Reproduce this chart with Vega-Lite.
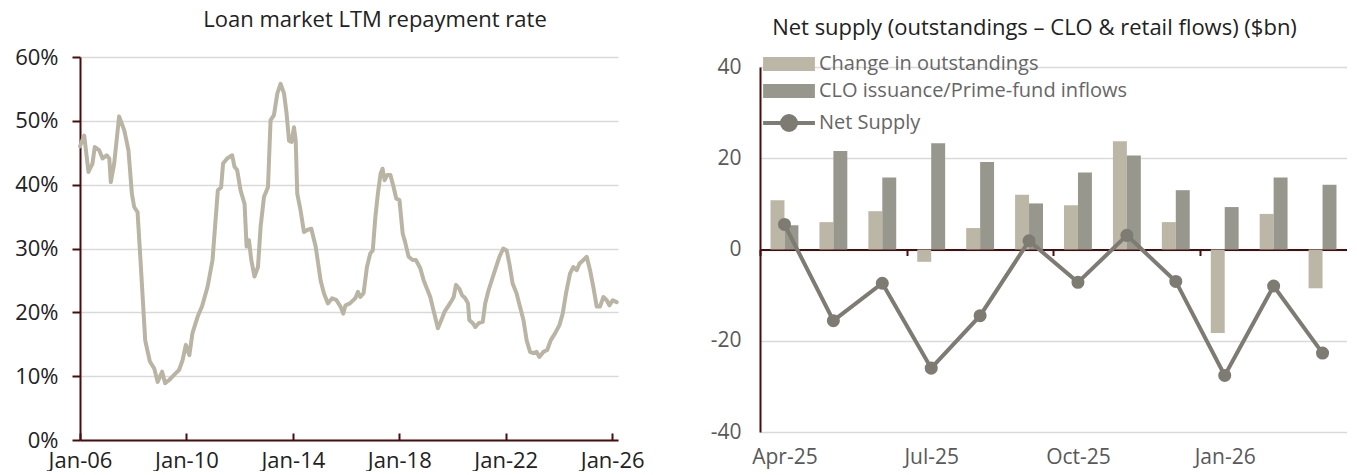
{
  "$schema": "https://vega.github.io/schema/vega-lite/v6.json",
  "background": "white",
  "padding": {"left": 0, "top": 9, "right": 0, "bottom": 0},
  "bounds": "full",
  "spacing": 55,
  "resolve": {"legend": {"color": "independent"}, "scale": {"color": "independent"}},
  "config": {"font": "Open Sans", "view": {"stroke": null}},
  "datasets": {
    "rate": [
      {"date": "2006-01-01", "rate": 46.0},
      {"date": "2006-02-28", "rate": 47.7},
      {"date": "2006-04-27", "rate": 42.0},
      {"date": "2006-06-21", "rate": 43.3},
      {"date": "2006-07-23", "rate": 45.9},
      {"date": "2006-09-21", "rate": 45.4},
      {"date": "2006-11-07", "rate": 44.1},
      {"date": "2007-01-02", "rate": 44.6},
      {"date": "2007-02-07", "rate": 44.1},
      {"date": "2007-02-28", "rate": 40.4},
      {"date": "2007-04-15", "rate": 43.3},
      {"date": "2007-06-22", "rate": 50.7},
      {"date": "2007-09-01", "rate": 48.5},
      {"date": "2007-10-28", "rate": 45.4},
      {"date": "2007-12-14", "rate": 38.6},
      {"date": "2008-01-15", "rate": 36.5},
      {"date": "2008-03-01", "rate": 35.7},
      {"date": "2008-04-16", "rate": 27.1},
      {"date": "2008-06-14", "rate": 15.6},
      {"date": "2008-08-17", "rate": 12.3},
      {"date": "2008-10-16", "rate": 11.2},
      {"date": "2008-12-02", "rate": 9.1},
      {"date": "2009-02-01", "rate": 10.7},
      {"date": "2009-03-15", "rate": 8.9},
      {"date": "2009-05-09", "rate": 9.4},
      {"date": "2009-07-16", "rate": 10.2},
      {"date": "2009-09-23", "rate": 11.0},
      {"date": "2009-11-09", "rate": 12.5},
      {"date": "2009-12-24", "rate": 14.9},
      {"date": "2010-02-10", "rate": 13.3},
      {"date": "2010-03-24", "rate": 16.7},
      {"date": "2010-06-03", "rate": 19.3},
      {"date": "2010-08-02", "rate": 20.9},
      {"date": "2010-10-18", "rate": 24.0},
      {"date": "2010-12-25", "rate": 28.2},
      {"date": "2011-03-08", "rate": 39.1},
      {"date": "2011-04-22", "rate": 39.6},
      {"date": "2011-05-19", "rate": 43.3},
      {"date": "2011-07-14", "rate": 44.1},
      {"date": "2011-09-21", "rate": 44.6},
      {"date": "2011-10-23", "rate": 42.8},
      {"date": "2011-11-28", "rate": 42.3},
      {"date": "2012-01-14", "rate": 39.1},
      {"date": "2012-03-09", "rate": 37.0},
      {"date": "2012-04-06", "rate": 30.3},
      {"date": "2012-05-08", "rate": 31.3},
      {"date": "2012-06-09", "rate": 28.2},
      {"date": "2012-07-23", "rate": 25.6},
      {"date": "2012-09-09", "rate": 27.1},
      {"date": "2012-10-15", "rate": 33.4},
      {"date": "2012-12-01", "rate": 38.1},
      {"date": "2013-01-24", "rate": 39.6},
      {"date": "2013-03-01", "rate": 50.1},
      {"date": "2013-04-16", "rate": 50.9},
      {"date": "2013-06-02", "rate": 54.3},
      {"date": "2013-07-16", "rate": 55.8},
      {"date": "2013-09-02", "rate": 54.3},
      {"date": "2013-10-07", "rate": 51.1},
      {"date": "2013-11-09", "rate": 46.9},
      {"date": "2013-12-15", "rate": 46.7},
      {"date": "2014-01-16", "rate": 49.0},
      {"date": "2014-02-09", "rate": 46.9},
      {"date": "2014-03-02", "rate": 38.6},
      {"date": "2014-04-16", "rate": 36.0},
      {"date": "2014-06-02", "rate": 32.6},
      {"date": "2014-07-17", "rate": 32.9},
      {"date": "2014-09-11", "rate": 33.1},
      {"date": "2014-11-10", "rate": 30.3},
      {"date": "2015-01-17", "rate": 25.0},
      {"date": "2015-03-03", "rate": 23.0},
      {"date": "2015-04-26", "rate": 21.4},
      {"date": "2015-06-24", "rate": 22.2},
      {"date": "2015-08-23", "rate": 21.9},
      {"date": "2015-10-17", "rate": 20.9},
      {"date": "2015-11-23", "rate": 19.8},
      {"date": "2015-12-25", "rate": 21.1},
      {"date": "2016-02-23", "rate": 21.4},
      {"date": "2016-05-07", "rate": 22.2},
      {"date": "2016-06-12", "rate": 23.2},
      {"date": "2016-07-14", "rate": 22.4},
      {"date": "2016-08-28", "rate": 23.0},
      {"date": "2016-10-14", "rate": 27.1},
      {"date": "2016-11-28", "rate": 29.2},
      {"date": "2017-01-02", "rate": 29.7},
      {"date": "2017-02-07", "rate": 35.0},
      {"date": "2017-03-13", "rate": 38.6},
      {"date": "2017-04-19", "rate": 41.7},
      {"date": "2017-05-16", "rate": 42.5},
      {"date": "2017-06-13", "rate": 40.7},
      {"date": "2017-07-19", "rate": 41.5},
      {"date": "2017-09-01", "rate": 41.5},
      {"date": "2017-10-15", "rate": 39.6},
      {"date": "2017-11-21", "rate": 37.8},
      {"date": "2018-01-03", "rate": 37.6},
      {"date": "2018-02-17", "rate": 32.3},
      {"date": "2018-03-22", "rate": 31.0},
      {"date": "2018-05-09", "rate": 28.7},
      {"date": "2018-07-03", "rate": 28.2},
      {"date": "2018-08-17", "rate": 28.2},
      {"date": "2018-10-16", "rate": 26.9},
      {"date": "2018-12-02", "rate": 25.0},
      {"date": "2019-01-16", "rate": 23.7},
      {"date": "2019-03-02", "rate": 22.4},
      {"date": "2019-04-16", "rate": 20.3},
      {"date": "2019-06-15", "rate": 17.5},
      {"date": "2019-08-01", "rate": 18.8},
      {"date": "2019-09-15", "rate": 20.1},
      {"date": "2019-11-10", "rate": 21.1},
      {"date": "2019-12-24", "rate": 21.9},
      {"date": "2020-01-17", "rate": 22.4},
      {"date": "2020-02-18", "rate": 24.3},
      {"date": "2020-04-04", "rate": 23.7},
      {"date": "2020-05-10", "rate": 22.7},
      {"date": "2020-06-24", "rate": 22.2},
      {"date": "2020-08-01", "rate": 21.4},
      {"date": "2020-08-19", "rate": 18.8},
      {"date": "2020-10-05", "rate": 18.3},
      {"date": "2020-11-10", "rate": 17.7},
      {"date": "2020-12-25", "rate": 18.3},
      {"date": "2021-02-19", "rate": 18.5},
      {"date": "2021-03-25", "rate": 21.4},
      {"date": "2021-05-11", "rate": 23.5},
      {"date": "2021-08-07", "rate": 26.6},
      {"date": "2021-10-06", "rate": 28.7},
      {"date": "2021-11-28", "rate": 30.0},
      {"date": "2022-01-14", "rate": 29.7},
      {"date": "2022-02-20", "rate": 27.6},
      {"date": "2022-04-06", "rate": 24.5},
      {"date": "2022-05-29", "rate": 23.0},
      {"date": "2022-07-15", "rate": 20.9},
      {"date": "2022-09-01", "rate": 18.8},
      {"date": "2022-10-15", "rate": 15.6},
      {"date": "2022-12-01", "rate": 13.8},
      {"date": "2023-01-15", "rate": 13.6},
      {"date": "2023-03-01", "rate": 13.8},
      {"date": "2023-04-07", "rate": 13.0},
      {"date": "2023-06-01", "rate": 13.8},
      {"date": "2023-07-24", "rate": 14.1},
      {"date": "2023-09-10", "rate": 15.6},
      {"date": "2023-11-09", "rate": 16.7},
      {"date": "2024-01-08", "rate": 18.0},
      {"date": "2024-02-22", "rate": 19.8},
      {"date": "2024-04-08", "rate": 23.0},
      {"date": "2024-06-02", "rate": 26.1},
      {"date": "2024-07-17", "rate": 27.1},
      {"date": "2024-09-02", "rate": 26.6},
      {"date": "2024-10-08", "rate": 27.6},
      {"date": "2024-12-02", "rate": 28.2},
      {"date": "2025-01-17", "rate": 28.7},
      {"date": "2025-03-03", "rate": 26.6},
      {"date": "2025-04-17", "rate": 24.0},
      {"date": "2025-06-03", "rate": 20.9},
      {"date": "2025-07-18", "rate": 20.9},
      {"date": "2025-09-03", "rate": 22.4},
      {"date": "2025-10-18", "rate": 21.9},
      {"date": "2025-11-24", "rate": 21.1},
      {"date": "2026-01-09", "rate": 21.9},
      {"date": "2026-03-04", "rate": 21.6}
    ],
    "flows": [
      {"month": "Apr-25", "series": "Change in outstandings", "value": 10.8},
      {"month": "Apr-25", "series": "CLO issuance/Prime-fund inflows", "value": 5.3},
      {"month": "May-25", "series": "Change in outstandings", "value": 6.0},
      {"month": "May-25", "series": "CLO issuance/Prime-fund inflows", "value": 21.6},
      {"month": "Jun-25", "series": "Change in outstandings", "value": 8.4},
      {"month": "Jun-25", "series": "CLO issuance/Prime-fund inflows", "value": 15.8},
      {"month": "Jul-25", "series": "Change in outstandings", "value": -2.7},
      {"month": "Jul-25", "series": "CLO issuance/Prime-fund inflows", "value": 23.3},
      {"month": "Aug-25", "series": "Change in outstandings", "value": 4.7},
      {"month": "Aug-25", "series": "CLO issuance/Prime-fund inflows", "value": 19.2},
      {"month": "Sep-25", "series": "Change in outstandings", "value": 12.0},
      {"month": "Sep-25", "series": "CLO issuance/Prime-fund inflows", "value": 10.1},
      {"month": "Oct-25", "series": "Change in outstandings", "value": 9.7},
      {"month": "Oct-25", "series": "CLO issuance/Prime-fund inflows", "value": 16.9},
      {"month": "Nov-25", "series": "Change in outstandings", "value": 23.7},
      {"month": "Nov-25", "series": "CLO issuance/Prime-fund inflows", "value": 20.6},
      {"month": "Dec-25", "series": "Change in outstandings", "value": 6.0},
      {"month": "Dec-25", "series": "CLO issuance/Prime-fund inflows", "value": 13.0},
      {"month": "Jan-26", "series": "Change in outstandings", "value": -18.3},
      {"month": "Jan-26", "series": "CLO issuance/Prime-fund inflows", "value": 9.3},
      {"month": "Feb-26", "series": "Change in outstandings", "value": 7.8},
      {"month": "Feb-26", "series": "CLO issuance/Prime-fund inflows", "value": 15.8},
      {"month": "Mar-26", "series": "Change in outstandings", "value": -8.5},
      {"month": "Mar-26", "series": "CLO issuance/Prime-fund inflows", "value": 14.2}
    ],
    "net": [
      {"month": "Apr-25", "value": 5.5},
      {"month": "May-25", "value": -15.6},
      {"month": "Jun-25", "value": -7.4},
      {"month": "Jul-25", "value": -26.0},
      {"month": "Aug-25", "value": -14.5},
      {"month": "Sep-25", "value": 1.9},
      {"month": "Oct-25", "value": -7.2},
      {"month": "Nov-25", "value": 3.1},
      {"month": "Dec-25", "value": -7.0},
      {"month": "Jan-26", "value": -27.6},
      {"month": "Feb-26", "value": -8.0},
      {"month": "Mar-26", "value": -22.7}
    ]
  },
  "hconcat": [
    {
      "width": 538,
      "height": 383,
      "title": {"text": "Loan market LTM repayment rate", "fontSize": 22, "fontWeight": "normal", "color": "#222222", "dx": 26, "offset": 14},
      "data": {"name": "rate"},
      "mark": {"type": "line", "color": "#b9b4a4", "strokeWidth": 4, "strokeJoin": "round", "strokeCap": "round"},
      "encoding": {
        "x": {
          "field": "date", "type": "temporal",
          "scale": {"type": "utc", "domain": ["2006-01-01", "2026-03-22"]},
          "axis": {
            "title": null, "grid": false,
            "values": ["2006-01-01", "2010-01-01", "2014-01-01", "2018-01-01", "2022-01-01", "2026-01-01"],
            "format": "%b-%y",
            "domainColor": "#4a0d0d", "domainWidth": 2,
            "tickColor": "#4a0d0d", "tickWidth": 2, "tickSize": -7,
            "labelFontSize": 22, "labelColor": "#222222", "labelPadding": 17,
            "labelOverlap": false, "labelFlush": false
          }
        },
        "y": {
          "field": "rate", "type": "quantitative",
          "scale": {"domain": [0, 60]},
          "axis": {
            "title": null, "values": [0, 10, 20, 30, 40, 50, 60],
            "labelExpr": "datum.value + '%'",
            "grid": true, "gridColor": "#d9d9d9", "gridWidth": 1.5,
            "domainColor": "#4a0d0d", "domainWidth": 2,
            "tickColor": "#4a0d0d", "tickWidth": 2, "tickSize": 8,
            "labelFontSize": 22, "labelColor": "#222222", "labelPadding": 14,
            "minExtent": 80, "maxExtent": 80
          }
        }
      }
    },
    {
      "width": 587,
      "height": 375,
      "title": {"text": "Net supply (outstandings – CLO & retail flows) ($bn)", "fontSize": 22, "fontWeight": "normal", "color": "#222222", "dx": -19, "offset": 14},
      "encoding": {
        "x": {
          "field": "month", "type": "ordinal",
          "scale": {"domain": ["Apr-25", "May-25", "Jun-25", "Jul-25", "Aug-25", "Sep-25", "Oct-25", "Nov-25", "Dec-25", "Jan-26", "Feb-26", "Mar-26"], "paddingInner": 0.43, "paddingOuter": 0.215},
          "axis": {
            "title": null, "grid": false, "labelAngle": 0,
            "offset": -182.5,
            "domainColor": "#4a0d0d", "domainWidth": 2,
            "tickOffset": -24.46,
            "labelOffset": 24.46,
            "tickColor": "#4a0d0d", "tickWidth": 2, "tickSize": 6,
            "tickOpacity": {"condition": {"test": "indexof(['Apr-25','Jul-25','Oct-25','Jan-26'], datum.value) >= 0", "value": 1}, "value": 0},
            "labelExpr": "indexof(['Apr-25','Jul-25','Oct-25','Jan-26'], datum.value) >= 0 ? datum.value : ''",
            "labelFontSize": 21, "labelColor": "#595959", "labelPadding": 191
          }
        },
        "y": {
          "field": "value", "type": "quantitative",
          "scale": {"domain": [-40, 40], "range": [375, 10]},
          "axis": {
            "title": null, "values": [-40, -20, 0, 20, 40],
            "labelExpr": "datum.value + ''",
            "grid": true, "gridColor": "#d9d9d9", "gridWidth": 1.5,
            "domainColor": "#4a0d0d", "domainWidth": 2,
            "ticks": false,
            "labelFontSize": 21, "labelColor": "#595959", "labelPadding": 19,
            "minExtent": 60, "maxExtent": 60
          }
        }
      },
      "layer": [
        {
          "data": {"name": "flows"},
          "mark": {"type": "bar"},
          "encoding": {
            "xOffset": {"field": "series", "type": "nominal", "sort": ["Change in outstandings", "CLO issuance/Prime-fund inflows"], "scale": {"paddingInner": 0, "paddingOuter": 0}},
            "color": {
              "field": "series", "type": "nominal",
              "scale": {"domain": ["Change in outstandings", "CLO issuance/Prime-fund inflows", "Net Supply"], "range": ["#bbb6a6", "#98978d", "#7e7b73"]},
              "legend": {
                "title": null, "orient": "none", "legendX": 19, "legendY": -3,
                "padding": 0, "labelFontSize": 20, "labelColor": "#666666", "labelLimit": 0,
                "symbolSize": 196, "labelOffset": 20, "rowPadding": 7,
                "encode": {
                  "symbols": {
                    "update": {
                      "shape": {"signal": "datum.value === 'Net Supply' ? 'M-3.7,0L3.7,0M-1,0A1,1 0 1,0 1,0A1,1 0 1,0 -1,0Z' : 'M-3.7,-1L3.7,-1L3.7,1L-3.7,1Z'"},
                      "fill": {"signal": "datum.value === 'Net Supply' ? '#7e7b73' : (datum.value === 'Change in outstandings' ? '#bbb6a6' : '#98978d')"},
                      "stroke": {"signal": "datum.value === 'Net Supply' ? '#7e7b73' : (datum.value === 'Change in outstandings' ? '#bbb6a6' : '#98978d')"},
                      "strokeWidth": {"signal": "datum.value === 'Net Supply' ? 4 : 0"},
                      "opacity": {"value": 1},
                      "fillOpacity": {"value": 1},
                      "strokeOpacity": {"value": 1},
                      "size": {"value": 196}
                    }
                  }
                }
              }
            }
          }
        },
        {
          "data": {"name": "net"},
          "mark": {"type": "line", "strokeWidth": 4, "point": {"filled": true, "size": 170, "opacity": 1}},
          "encoding": {
            "color": {"datum": "Net Supply"}
          }
        }
      ]
    }
  ]
}
